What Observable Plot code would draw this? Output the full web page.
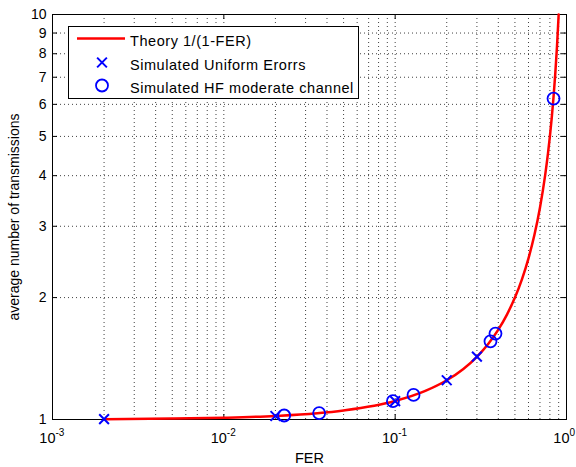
<!DOCTYPE html>
<html>
<head>
<meta charset="utf-8">
<script src="https://cdn.jsdelivr.net/npm/d3@7"></script>
<script src="https://cdn.jsdelivr.net/npm/@observablehq/plot@0.6"></script>
<style>
  html, body { margin: 0; padding: 0; background: white; }
  #chart { width: 576px; height: 467px; }
</style>
</head>
<body>
<div id="chart"></div>
<script>
// Theory curve 1/(1-FER)
const theoryFER = [0.002, 0.005, 0.01, 0.02, 0.05, 0.1, 0.15, 0.2, 0.25, 0.3, 0.35, 0.4, 0.45, 0.5, 0.55, 0.6, 0.65, 0.7, 0.75, 0.78, 0.8, 0.82, 0.84, 0.86, 0.88, 0.9];
const theoryAvg = [1.002, 1.005, 1.0101, 1.0204, 1.0526, 1.1111, 1.1765, 1.25, 1.3333, 1.4286, 1.5385, 1.6667, 1.8182, 2, 2.2222, 2.5, 2.8571, 3.3333, 4, 4.5455, 5, 5.5556, 6.25, 7.1429, 8.3333, 10];

// Simulated Uniform Erorrs (x markers)
const uniformFER = [0.002, 0.02, 0.1, 0.2, 0.3];
const uniformAvg = [1.002, 1.02, 1.11, 1.25, 1.43];

// Simulated HF moderate channel (circles)
const hfFER = [0.0225, 0.036, 0.097, 0.128, 0.36, 0.385, 0.84];
const hfAvg = [1.023, 1.037, 1.11, 1.15, 1.56, 1.63, 6.2];

// Ticks / grid
const xMajor = [0.001, 0.01, 0.1, 1];
const xGrid = [0.002,0.003,0.004,0.005,0.006,0.007,0.008,0.009,0.01,
               0.02,0.03,0.04,0.05,0.06,0.07,0.08,0.09,0.1,
               0.2,0.3,0.4,0.5,0.6,0.7,0.8,0.9];
const yTicks = [1, 2, 3, 4, 5, 6, 7, 8, 9, 10];
const yGrid = [2, 3, 4, 5, 6, 7, 8, 9];

const legendLabels = ["Theory 1/(1-FER)", "Simulated Uniform Erorrs", "Simulated HF moderate channel"];
const xLabel = "FER";
const yLabel = "average number of transmissions";

const theory = theoryFER.map((f, i) => ({fer: f, avg: theoryAvg[i]}));
const uniform = uniformFER.map((f, i) => ({fer: f, avg: uniformAvg[i]}));
const hf = hfFER.map((f, i) => ({fer: f, avg: hfAvg[i]}));

const FONT = "'Liberation Sans', Arial, Helvetica, sans-serif";
const RED = "#ff0000";
const BLUE = "#0000ff";

const plot = Plot.plot({
  width: 576,
  height: 467,
  marginLeft: 52,
  marginRight: 10,
  marginTop: 14,
  marginBottom: 48,
  style: {fontFamily: FONT, background: "white", color: "black", overflow: "visible"},
  x: {type: "log", domain: [1e-3, 1], axis: null},
  y: {type: "log", domain: [1, 10], axis: null},
  marks: [
    Plot.ruleX(xGrid, {x: d => d, stroke: "black", strokeOpacity: 0.75, strokeDasharray: "1,3"}),
    Plot.ruleY(yGrid, {y: d => d, stroke: "black", strokeOpacity: 0.75, strokeDasharray: "1,3"}),
    Plot.frame({stroke: "black", strokeWidth: 1}),
    Plot.ruleX(xMajor, {x: d => d, stroke: "black", insetTop: 400}),
    Plot.ruleX(xMajor, {x: d => d, stroke: "black", insetBottom: 400}),
    Plot.ruleY(yTicks, {y: d => d, stroke: "black", insetRight: 509}),
    Plot.ruleY(yTicks, {y: d => d, stroke: "black", insetLeft: 509}),
    Plot.line(theory, {x: "fer", y: "avg", stroke: RED, strokeWidth: 2.5, curve: "monotone-x"}),
    Plot.dot(uniform, {x: "fer", y: "avg", symbol: "times", r: 4.5, stroke: BLUE, strokeWidth: 2}),
    Plot.dot(hf, {x: "fer", y: "avg", symbol: "circle", r: 6, stroke: BLUE, strokeWidth: 1.8, fill: "none"}),
    // y tick labels
    Plot.text(yTicks, {x: () => 1e-3, y: d => d, text: d => String(d), textAnchor: "end", dx: -6, fontSize: 14, fill: "black", lineAnchor: "middle"}),
    // x tick labels: base + exponent
    Plot.text(xMajor, {x: d => d, y: () => 1, text: () => "10", textAnchor: "end", dx: 3, dy: 19, fontSize: 14.5, fill: "black", lineAnchor: "middle"}),
    Plot.text(xMajor, {x: d => d, y: () => 1, text: d => String(Math.round(Math.log10(d))), textAnchor: "start", dx: 3, dy: 13, fontSize: 10, fill: "black", lineAnchor: "middle"}),
    // axis labels
    Plot.text([xLabel], {frameAnchor: "bottom", text: d => d, textAnchor: "middle", dy: 39, fontSize: 14.5, fill: "black", lineAnchor: "middle"}),
    Plot.text([yLabel], {frameAnchor: "left", text: d => d, textAnchor: "middle", rotate: -90, dx: -38, fontSize: 14, fill: "black", lineAnchor: "middle", style: "letter-spacing: 0.5px"})
  ]
});

document.getElementById("chart").appendChild(plot);

// Legend box (MATLAB style), drawn inside the axes
const svg = d3.select(plot);
const lg = svg.append("g").attr("font-family", FONT).attr("font-size", 14.5).attr("text-anchor", "start");
lg.append("rect").attr("x", 68.5).attr("y", 26.5).attr("width", 290).attr("height", 72)
  .attr("fill", "white").attr("stroke", "black").attr("stroke-width", 1);
const rowsY = [38.5, 62.5, 85.5];
lg.append("line").attr("x1", 77).attr("x2", 125).attr("y1", rowsY[0]).attr("y2", rowsY[0])
  .attr("stroke", RED).attr("stroke-width", 2.5);
lg.append("path").attr("d", d3.symbol(d3.symbolTimes, Math.PI * 4.5 * 4.5)())
  .attr("transform", `translate(102,${rowsY[1]})`).attr("fill", "none").attr("stroke", BLUE).attr("stroke-width", 2);
lg.append("circle").attr("cx", 102).attr("cy", rowsY[2]).attr("r", 6)
  .attr("fill", "none").attr("stroke", BLUE).attr("stroke-width", 1.8);
legendLabels.forEach((t, i) => {
  lg.append("text").attr("x", 130).attr("y", rowsY[i] + 2).attr("dy", "0.36em")
    .attr("text-anchor", "start").attr("letter-spacing", "0.55px").attr("fill", "black").text(t);
});
</script>
</body>
</html>
